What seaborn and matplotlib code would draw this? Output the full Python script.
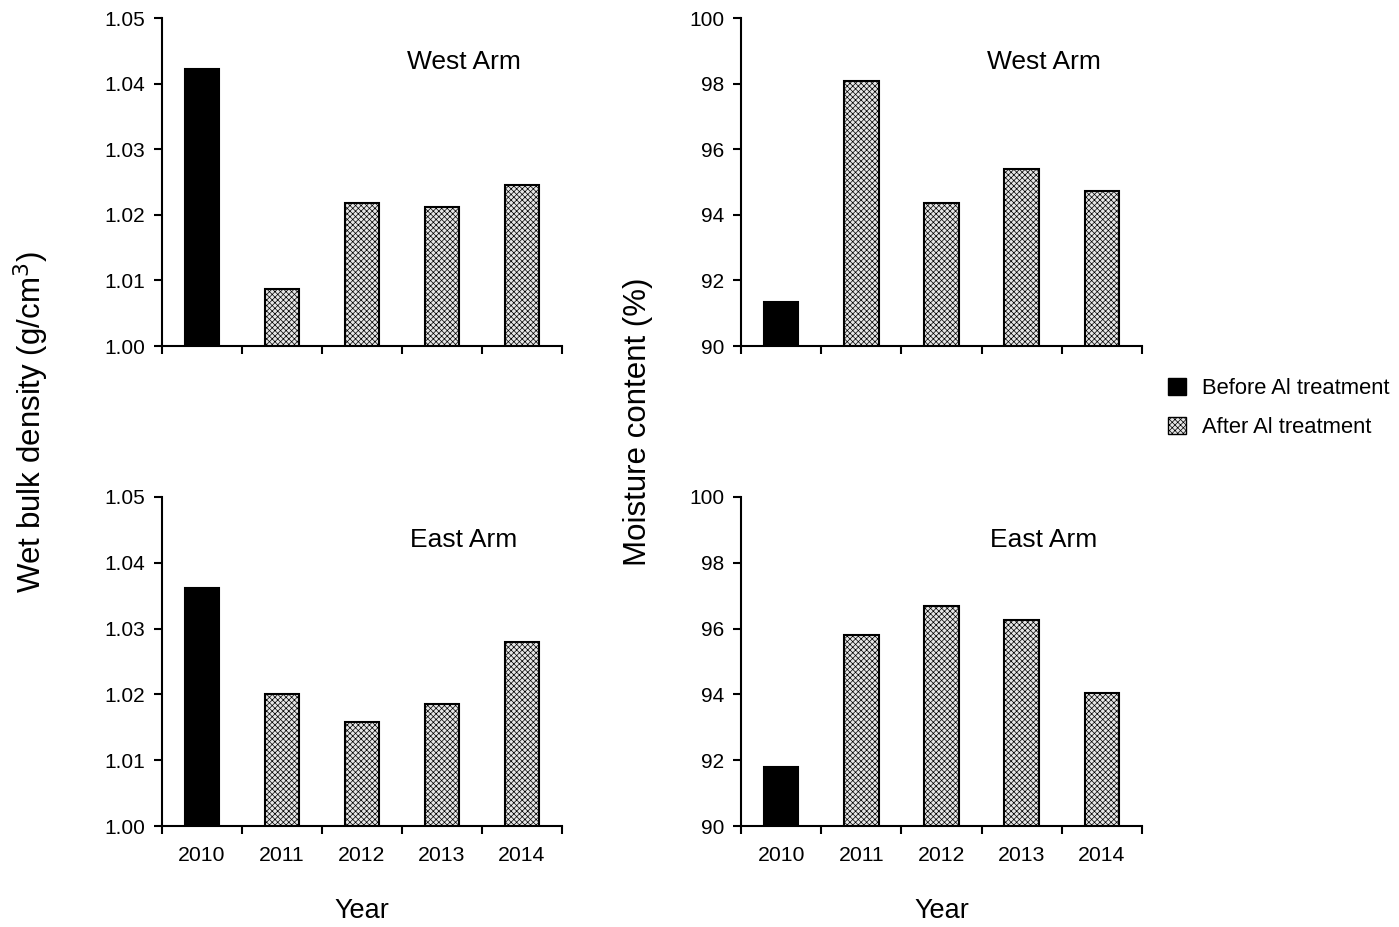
import matplotlib
matplotlib.use("Agg")
import matplotlib.pyplot as plt
import seaborn as sns
import pandas as pd
from matplotlib.patches import Patch
from matplotlib.ticker import FixedLocator, FormatStrFormatter

sns.set_style("ticks")
plt.rcParams['font.family'] = ['Liberation Sans', 'DejaVu Sans']
plt.rcParams['hatch.color'] = '#cdcdcd'
plt.rcParams['hatch.linewidth'] = 0.5
for k in ['text.color', 'axes.labelcolor', 'xtick.color', 'ytick.color', 'axes.edgecolor']:
    plt.rcParams[k] = 'black'

years = ["2010", "2011", "2012", "2013", "2014"]
treatment = ["Before Al treatment", "After Al treatment", "After Al treatment",
             "After Al treatment", "After Al treatment"]
density_west = [1.0422, 1.0087, 1.0218, 1.0212, 1.0245]
density_east = [1.0362, 1.0200, 1.0158, 1.0185, 1.0280]
moisture_west = [91.34, 98.08, 94.36, 95.40, 94.73]
moisture_east = [91.79, 95.81, 96.69, 96.26, 94.04]

W, H = 1399, 927
fig = plt.figure(figsize=(W / 100, H / 100), dpi=100)

def ax_px(left, top, right, bottom):
    return fig.add_axes([left / W, 1 - bottom / H, (right - left) / W, (bottom - top) / H])

AFTER_FC = "#e6e6e6"
HATCH = "xxxxxx"
palette = {"Before Al treatment": "black", "After Al treatment": AFTER_FC}

def panel(ax, vals, ylim, yticks, fmt, title, title_y, show_x):
    df = pd.DataFrame({"Year": years, "val": vals, "Treatment": treatment})
    sns.barplot(data=df, x="Year", y="val", hue="Treatment", dodge=False,
                palette=palette, width=0.43, edgecolor="black", linewidth=1.5,
                legend=False, ax=ax, order=years)
    for p in ax.patches:
        if p.get_facecolor()[0] > 0.5:
            p.set_hatch(HATCH)
    ax.set_xlim(-0.5, 4.5)
    ax.set_ylim(*ylim)
    ax.yaxis.set_major_locator(FixedLocator(yticks))
    ax.yaxis.set_major_formatter(FormatStrFormatter(fmt))
    ax.set_xticks(range(5))
    ax.set_xticks([i - 0.5 for i in range(6)], minor=True)
    ax.tick_params(axis="x", which="major", length=0, pad=14.5, labelsize=15.3)
    ax.tick_params(axis="x", which="minor", length=6, width=1.5, direction="out")
    ax.tick_params(axis="y", length=6, width=1.5, direction="out", labelsize=15, pad=6)
    if show_x:
        ax.set_xlabel("Year", fontsize=19.5, labelpad=23.5)
    else:
        ax.set_xticklabels([])
        ax.set_xlabel("")
    ax.set_ylabel("")
    for s in ["top", "right"]:
        ax.spines[s].set_visible(False)
    for s in ["left", "bottom"]:
        ax.spines[s].set_linewidth(1.5)
    ax.text(0.755, title_y, title, transform=ax.transAxes, ha="center", va="center",
            fontsize=19)

ax1 = ax_px(162, 18, 562, 346)
ax2 = ax_px(741, 18, 1142, 346)
ax3 = ax_px(162, 497, 562, 826)
ax4 = ax_px(741, 497, 1142, 826)

dens_ticks = [1.00, 1.01, 1.02, 1.03, 1.04, 1.05]
moist_ticks = [90, 92, 94, 96, 98, 100]
panel(ax1, density_west, (1.0, 1.05), dens_ticks, "%.2f", "West Arm", 0.865, False)
panel(ax2, moisture_west, (90, 100), moist_ticks, "%d", "West Arm", 0.865, False)
panel(ax3, density_east, (1.0, 1.05), dens_ticks, "%.2f", "East Arm", 0.868, True)
panel(ax4, moisture_east, (90, 100), moist_ticks, "%d", "East Arm", 0.868, True)

fig.text(31 / W, 1 - 422 / H, "Wet bulk density (g/cm$^3$)", rotation=90,
         ha="center", va="center", fontsize=22.5)
fig.text(638 / W, 1 - 422 / H, "Moisture content (%)", rotation=90,
         ha="center", va="center", fontsize=22.5)

handles = [Patch(facecolor="black", edgecolor="black", label="Before Al treatment"),
           Patch(facecolor=AFTER_FC, edgecolor="black", hatch=HATCH, label="After Al treatment")]
fig.legend(handles=handles, loc="center left", bbox_to_anchor=(1161 / W, 1 - 408 / H),
           frameon=False, fontsize=15.8, handlelength=0.85, handleheight=0.85,
           handletextpad=0.7, labelspacing=0.8, borderaxespad=0, borderpad=0.3)

fig.savefig("out.png", dpi=100)
